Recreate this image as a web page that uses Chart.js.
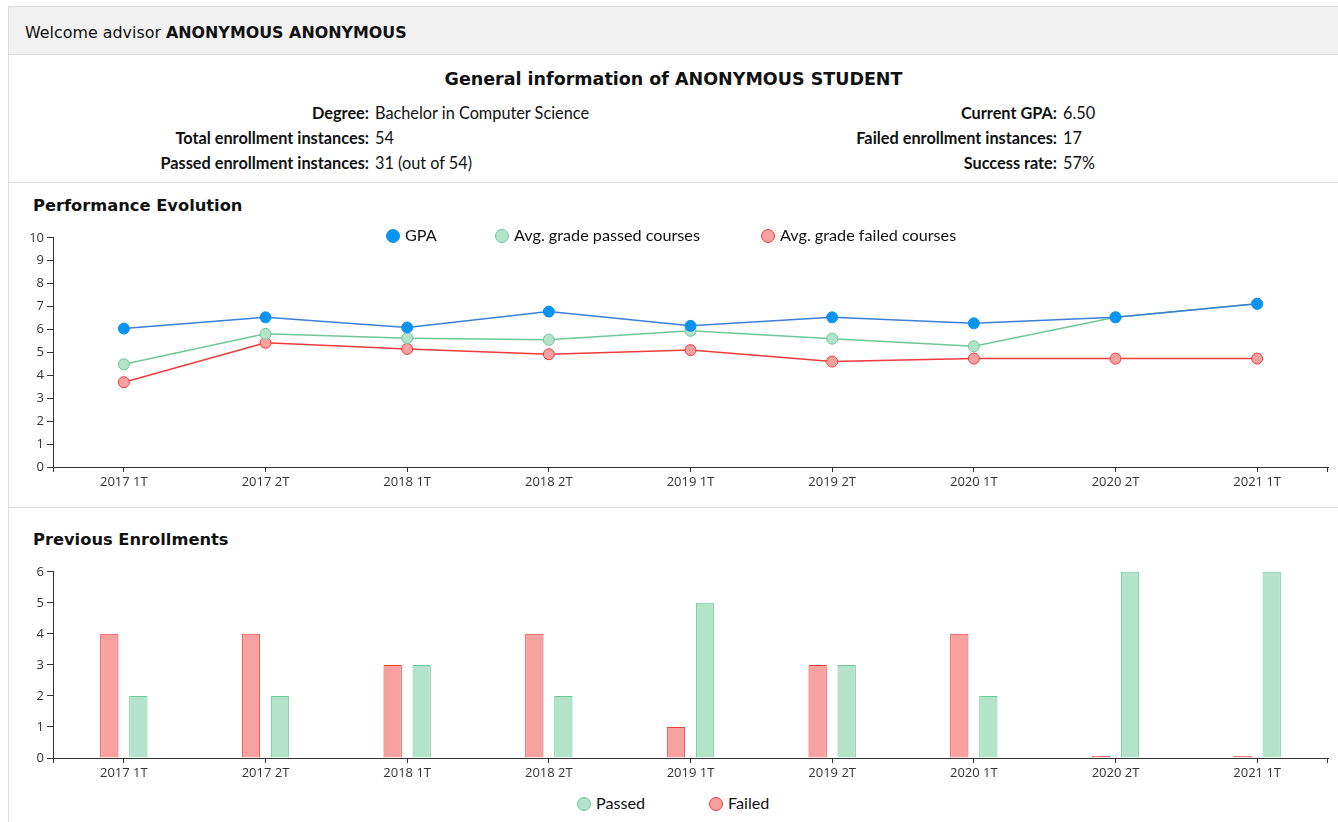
<!DOCTYPE html>
<html>
<head>
<meta charset="utf-8">
<script src="https://cdn.jsdelivr.net/npm/chart.js@4/dist/chart.umd.min.js"></script>
<style>
  html, body { margin: 0; padding: 0; background: #fff; }
  body { width: 1338px; height: 822px; overflow: hidden; position: relative; font-family: "DejaVu Sans", Verdana, sans-serif; }
  .panel { position: absolute; left: 8px; top: 6px; width: 1400px; height: 900px; border: 1px solid #dcdcdc; box-sizing: border-box; }
  .header { position: absolute; left: 9px; top: 7px; width: 1400px; height: 47px; background: #f2f2f2; border-bottom: 1px solid #dcdcdc; }
  .header span { position: absolute; left: 16px; top: 16px; font-size: 15.9px; color: #111; }
  .title { position: absolute; left: 9px; width: 1329px; top: 69px; text-align: center; font-weight: bold; font-size: 17.5px; color: #111; }
  .info { position: absolute; font-family: Lato, "Open Sans", sans-serif; font-size: 16.3px; color: #111; white-space: nowrap; }
  .info .lab { position: absolute; right: 0; font-weight: bold; }
  .info .val { position: absolute; left: 6px; }
  .sep { position: absolute; left: 9px; width: 1400px; height: 1px; background: #dcdcdc; }
  .sect { position: absolute; left: 33px; font-weight: bold; font-size: 16.3px; color: #111; }
  .chartbox { position: absolute; left: 8px; }
  .legend { position: absolute; font-family: Lato, "Open Sans", sans-serif; font-size: 16.2px; color: #111; white-space: nowrap; }
  .legend .item { position: absolute; top: 0; }
  .legend .dot { position: absolute; width: 12px; height: 12px; border-radius: 50%; border: 1px solid; top: 1px; }
  .legend .txt { position: absolute; left: 19px; top: -3px; }
</style>
</head>
<body>
<div class="panel"></div>
<div class="header"><span>Welcome advisor <b>ANONYMOUS ANONYMOUS</b></span></div>
<div class="title">General information of ANONYMOUS STUDENT</div>

<div class="info" style="left:0; top:103px; width:369px;"><span class="lab">Degree:</span></div>
<div class="info" style="left:369px; top:103px;"><span class="val">Bachelor in Computer Science</span></div>
<div class="info" style="left:0; top:128px; width:369px;"><span class="lab">Total enrollment instances:</span></div>
<div class="info" style="left:369px; top:128px;"><span class="val">54</span></div>
<div class="info" style="left:0; top:153px; width:369px;"><span class="lab">Passed enrollment instances:</span></div>
<div class="info" style="left:369px; top:153px;"><span class="val">31 (out of 54)</span></div>

<div class="info" style="left:0; top:103px; width:1057px;"><span class="lab">Current GPA:</span></div>
<div class="info" style="left:1057px; top:103px;"><span class="val">6.50</span></div>
<div class="info" style="left:0; top:128px; width:1057px;"><span class="lab">Failed enrollment instances:</span></div>
<div class="info" style="left:1057px; top:128px;"><span class="val">17</span></div>
<div class="info" style="left:0; top:153px; width:1057px;"><span class="lab">Success rate:</span></div>
<div class="info" style="left:1057px; top:153px;"><span class="val">57%</span></div>

<div class="sep" style="top:182px;"></div>
<div class="sect" style="top:196px;">Performance Evolution</div>
<div class="chartbox" style="top:227px; width:1330px; height:265px;"><canvas id="c1" width="1330" height="265"></canvas></div>
<div class="legend" id="lg1" style="left:0; top:228px; width:1338px; height:20px;"></div>

<div class="sep" style="top:507px;"></div>
<div class="sect" style="top:530px;">Previous Enrollments</div>
<div class="chartbox" style="top:561px; width:1330px; height:222px;"><canvas id="c2" width="1330" height="222"></canvas></div>
<div class="legend" id="lg2" style="left:0; top:796px; width:1338px; height:20px;"></div>

<script>
// ---- data ----
const terms = ["2017 1T", "2017 2T", "2018 1T", "2018 2T", "2019 1T", "2019 2T", "2020 1T", "2020 2T", "2021 1T"];
const gpa = [6.04, 6.53, 6.09, 6.78, 6.16, 6.53, 6.27, 6.53, 7.12];
const avgPassed = [4.48, 5.81, 5.62, 5.55, 5.94, 5.60, 5.27, 6.53, 7.12];
const avgFailed = [3.70, 5.42, 5.15, 4.92, 5.10, 4.60, 4.73, 4.73, 4.73];
const failedCount = [4, 4, 3, 4, 1, 3, 4, 0, 0];
const passedCount = [2, 2, 3, 2, 5, 3, 2, 6, 6];
const gradeTicks = [0, 1, 2, 3, 4, 5, 6, 7, 8, 9, 10];
const countTicks = [0, 1, 2, 3, 4, 5, 6];

const BLUE_LINE = '#3a80d6', BLUE_PT = '#0a93f0';
const GREEN_LINE = '#6cc898', GREEN_FILL = '#b3e3cb';
const RED_LINE = '#ee3b3b', RED_FILL = '#f7a1a1';
const AXIS = '#333';
const TICKFONT = { family: "'Open Sans', sans-serif", size: 13 };

const edgeTicks = {
  id: 'edgeTicks',
  afterDraw(chart) {
    const ctx = chart.ctx, a = chart.chartArea;
    ctx.save();
    ctx.strokeStyle = AXIS; ctx.lineWidth = 1;
    ctx.beginPath();
    ctx.moveTo(Math.round(a.left) + 0.5, a.bottom); ctx.lineTo(Math.round(a.left) + 0.5, a.bottom + 5);
    ctx.moveTo(Math.round(a.right) - 0.5, a.bottom); ctx.lineTo(Math.round(a.right) - 0.5, a.bottom + 5);
    ctx.stroke();
    ctx.restore();
  }
};

function xScale() {
  return {
    type: 'category', offset: true,
    grid: { display: true, offset: false, drawOnChartArea: false, drawTicks: true, tickLength: 5, color: AXIS },
    border: { display: true, color: AXIS },
    ticks: { color: '#333', font: TICKFONT, padding: 2, maxRotation: 0, autoSkip: false },
    afterFit: s => { s.height = 25; }
  };
}
function yScale(ticksArr) {
  return {
    min: ticksArr[0], max: ticksArr[ticksArr.length - 1],
    afterBuildTicks: s => { s.ticks = ticksArr.map(v => ({ value: v })); },
    grid: { display: true, drawOnChartArea: false, drawTicks: true, tickLength: 6, color: AXIS },
    border: { display: true, color: AXIS },
    ticks: { color: '#333', font: TICKFONT, padding: 3 },
    afterFit: s => { s.width = 45; }
  };
}

const c1 = new Chart(document.getElementById('c1'), {
  type: 'line',
  data: {
    labels: terms,
    datasets: [
      { label: 'GPA', data: gpa, borderColor: BLUE_LINE, backgroundColor: BLUE_PT, pointBackgroundColor: BLUE_PT, pointBorderColor: BLUE_PT, borderWidth: 1.5, pointRadius: 5.5, pointBorderWidth: 1, tension: 0, order: 0 },
      { label: 'Avg. grade passed courses', data: avgPassed, borderColor: GREEN_LINE, backgroundColor: GREEN_FILL, pointBackgroundColor: GREEN_FILL, pointBorderColor: GREEN_LINE, borderWidth: 1.5, pointRadius: 5.5, pointBorderWidth: 1, tension: 0, order: 1 },
      { label: 'Avg. grade failed courses', data: avgFailed, borderColor: RED_LINE, backgroundColor: RED_FILL, pointBackgroundColor: RED_FILL, pointBorderColor: RED_LINE, borderWidth: 1.5, pointRadius: 5.5, pointBorderWidth: 1, tension: 0, order: 2 }
    ]
  },
  options: {
    responsive: false, animation: false, devicePixelRatio: 1,
    layout: { padding: { top: 10, right: 10, left: 0, bottom: 0 } },
    plugins: { legend: { display: false }, tooltip: { enabled: false } },
    scales: { x: xScale(), y: yScale(gradeTicks) }
  },
  plugins: [edgeTicks]
});

const c2 = new Chart(document.getElementById('c2'), {
  type: 'bar',
  data: {
    labels: terms,
    datasets: [
      { label: 'Failed', data: failedCount, backgroundColor: RED_FILL, borderColor: RED_LINE, borderWidth: 1, minBarLength: 2 },
      { label: 'Passed', data: passedCount, backgroundColor: GREEN_FILL, borderColor: GREEN_LINE, borderWidth: 1 }
    ]
  },
  options: {
    responsive: false, animation: false, devicePixelRatio: 1,
    layout: { padding: { top: 10, right: 10, left: 0, bottom: 0 } },
    datasets: { bar: { categoryPercentage: 0.41, barPercentage: 0.63 } },
    plugins: { legend: { display: false }, tooltip: { enabled: false } },
    scales: { x: xScale(), y: yScale(countTicks) }
  },
  plugins: [edgeTicks]
});

// HTML legends built from the chart datasets
function buildLegend(el, items, positions) {
  items.forEach((ds, i) => {
    const it = document.createElement('div');
    it.className = 'item';
    it.style.left = positions[i] + 'px';
    const d = document.createElement('span');
    d.className = 'dot';
    d.style.background = ds.pointBackgroundColor || ds.backgroundColor;
    d.style.borderColor = ds.pointBorderColor || ds.borderColor;
    const t = document.createElement('span');
    t.className = 'txt';
    t.textContent = ds.label;
    it.appendChild(d); it.appendChild(t);
    el.appendChild(it);
  });
}
buildLegend(document.getElementById('lg1'), c1.data.datasets, [386, 495, 761]);
buildLegend(document.getElementById('lg2'), [c2.data.datasets[1], c2.data.datasets[0]], [577, 709]);
</script>
</body>
</html>
